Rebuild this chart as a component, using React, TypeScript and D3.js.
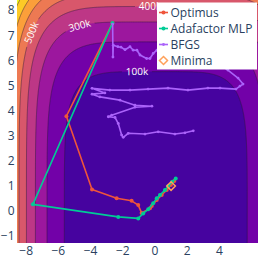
import * as d3 from "d3";
import { useEffect, useRef } from "react";

// contour levels of the loss surface
const levels = [100000, 200000, 300000, 400000, 500000, 600000, 700000, 800000, 900000];
const labelLevels = [500000, 300000, 400000, 100000];
const labelX = [-7.83, -4.66, -0.31, -1.12];
const labelY = [7.21, 7.29, 7.89, 5.66];

// bowl fitted to the shading of the picture
const bowl = { a: 96, x0: 0.05, b: 65.2, y0: -0.7, p: 1.3 };

const xTicks = [-8, -6, -4, -2, 0, 2, 4];
const yTicks = [-1, 0, 1, 2, 3, 4, 5, 6, 7, 8];

const optimusX = [-2.64, -5.5, -3.91, -2.38, -1.45, -1.04, -0.83, -0.31, -0.2, 0.11, 0.42, 0.73, 0.99, 1.2];
const optimusY = [7.49, 3.78, 0.86, 0.51, 0.41, 0.24, -0.07, 0.11, 0.2, 0.44, 0.64, 0.84, 1.04, 1.2];

const adafactorX = [-2.64, -7.58, -2.28, -1.04, -0.73, -0.42, -0.11, 0.11, 0.31, 0.62, 0.83, 1.07, 1.29];
const adafactorY = [7.49, 0.27, -0.23, -0.29, -0.09, 0.07, 0.31, 0.51, 0.64, 0.84, 1.0, 1.17, 1.3];

const bfgsX = [-2.63, -2.61, -2.59, -2.3, -2.11, -1.86, -1.55, -1.35, -1.12, -0.93, -0.52, -0.31, -0.11, 0.12,
  2.17, 3.73, 4.53, 5.16, 5.47, 5.28, 5.03, 4.04, 3.29, 2.05, 0.81, -0.43, -1.55, -2.8, -3.91,
  -3.11, -3.91, -3.42, -2.17, -1.24, -0.19, -1.24, -2.69, -2.9, -2.48, -2.28, -2.07, -1.97, -1.66,
  -0.62, 0.2, 1.24, 1.86, 2.38];
const bfgsY = [7.45, 6.14, 6.61, 6.55, 6.53, 6.43, 6.55, 6.41, 6.41, 6.22, 6.08, 6.08, 6.28, 6.41,
  6.61, 5.94, 5.62, 5.3, 5.06, 4.98, 4.86, 4.9, 4.9, 4.82, 4.9, 4.86, 4.82, 4.82, 4.89,
  4.71, 4.66, 4.55, 4.42, 4.22, 4.18, 4.14, 3.82, 3.76, 3.73, 3.49, 3.03, 2.94, 3.1,
  3.07, 3.16, 3.07, 3.12, 3.2];

const minimaX = [1];
const minimaY = [1];

const seriesNames = ["Optimus", "Adafactor MLP", "BFGS", "Minima"];
const seriesColors = ["#EF553B", "#00CC96", "#AB63FA", "#FFA15A"];

function loss(x: number, y: number) {
  const u = (bowl.a * Math.pow(x - bowl.x0, 4)) / 1000;
  const v = (bowl.b * Math.pow(y - bowl.y0, 4)) / 1000;
  return Math.pow(Math.pow(u, bowl.p) + Math.pow(v, bowl.p), 1 / bowl.p) * 1000;
}

export default function App() {
  const ref = useRef<SVGSVGElement>(null);

  useEffect(() => {
    const svg = d3.select(ref.current);
    svg.selectAll("*").remove();

    const x = d3.scaleLinear().domain([-8.57, 6.4]).range([17, 258]);
    const y = d3.scaleLinear().domain([-1.27, 8.41]).range([243, 0]);
    const font = "'Open Sans', sans-serif";
    const band = (i: number) => d3.interpolatePlasma(Math.min(1, (i + 1) / 9));

    const defs = svg.append("defs");
    defs
      .append("clipPath")
      .attr("id", "plotclip")
      .append("rect")
      .attr("x", 17)
      .attr("y", 0)
      .attr("width", 241)
      .attr("height", 243);

    // sample the surface on a grid wider than the plot
    const step = 0.04;
    const gx0 = -9.2,
      gy0 = -2.2;
    const nx = Math.ceil((7.2 - gx0) / step) + 1;
    const ny = Math.ceil((9.4 - gy0) / step) + 1;
    const values = new Array(nx * ny);
    for (let j = 0; j < ny; j++) {
      for (let i = 0; i < nx; i++) {
        values[j * nx + i] = loss(gx0 + i * step, gy0 + j * step);
      }
    }
    const contours = d3.contours().size([nx, ny]).thresholds(levels)(values);
    const proj = d3.geoTransform({
      point(px: number, py: number) {
        this.stream.point(x(gx0 + (px - 0.5) * step), y(gy0 + (py - 0.5) * step));
      },
    });
    const geo = d3.geoPath(proj);

    // labels sit on their contour, turned along it
    const labels = labelLevels.map((lv, k) => {
      let px = labelX[k],
        py = labelY[k];
      for (let it = 0; it < 8; it++) {
        const h = 1e-3;
        const gx = (loss(px + h, py) - loss(px - h, py)) / (2 * h);
        const gy = (loss(px, py + h) - loss(px, py - h)) / (2 * h);
        const d = (loss(px, py) - lv) / (gx * gx + gy * gy);
        px -= d * gx;
        py -= d * gy;
      }
      const h = 1e-3;
      const gx = (loss(px + h, py) - loss(px - h, py)) / (2 * h);
      const gy = (loss(px, py + h) - loss(px, py - h)) / (2 * h);
      let ang = (Math.atan2(-gx * 25.1, -gy * 16.1) * 180) / Math.PI;
      if (ang > 90) ang -= 180;
      if (ang < -90) ang += 180;
      return { text: d3.format("~s")(lv), cx: x(px), cy: y(py), ang };
    });

    const mask = defs.append("mask").attr("id", "lblmask").attr("maskUnits", "userSpaceOnUse");
    mask.append("rect").attr("x", 0).attr("y", 0).attr("width", 258).attr("height", 258).attr("fill", "white");
    labels.forEach((l) => {
      mask
        .append("rect")
        .attr("x", -15)
        .attr("y", -6)
        .attr("width", 30)
        .attr("height", 12)
        .attr("fill", "black")
        .attr("transform", `translate(${l.cx},${l.cy}) rotate(${l.ang})`);
    });

    const plot = svg.append("g").attr("clip-path", "url(#plotclip)");
    plot.append("rect").attr("x", 17).attr("y", 0).attr("width", 241).attr("height", 243).attr("fill", band(0));

    plot
      .selectAll("path.band")
      .data(contours)
      .enter()
      .append("path")
      .attr("class", "band")
      .attr("d", (d) => geo(d as any))
      .attr("fill", (d, i) => band(i + 1));

    plot
      .append("g")
      .attr("mask", "url(#lblmask)")
      .selectAll("path")
      .data(contours)
      .enter()
      .append("path")
      .attr("d", (d) => geo(d as any))
      .attr("fill", "none")
      .attr("stroke", "rgba(45,25,60,0.8)")
      .attr("stroke-width", 0.6);

    labels.forEach((l) => {
      plot
        .append("text")
        .attr("transform", `translate(${l.cx},${l.cy}) rotate(${l.ang})`)
        .attr("text-anchor", "middle")
        .attr("dy", "0.35em")
        .attr("font-family", font)
        .attr("font-size", 10)
        .attr("fill", "white")
        .text(l.text);
    });

    // optimizer paths
    const trails = [
      { xs: optimusX, ys: optimusY, color: seriesColors[0], r: 2 },
      { xs: adafactorX, ys: adafactorY, color: seriesColors[1], r: 2 },
      { xs: bfgsX, ys: bfgsY, color: seriesColors[2], r: 1.4 },
    ];
    trails.forEach((t) => {
      const idx = d3.range(t.xs.length);
      const line = d3
        .line<number>()
        .x((i) => x(t.xs[i]))
        .y((i) => y(t.ys[i]));
      plot
        .append("path")
        .attr("d", line(idx))
        .attr("fill", "none")
        .attr("stroke", t.color)
        .attr("stroke-width", 1.6)
        .attr("stroke-linejoin", "round");
      plot
        .selectAll(null)
        .data(idx)
        .enter()
        .append("circle")
        .attr("cx", (i) => x(t.xs[i]))
        .attr("cy", (i) => y(t.ys[i]))
        .attr("r", t.r)
        .attr("fill", t.color);
    });

    const diamond = (cx: number, cy: number, s: number) =>
      `M${cx},${cy - s}L${cx + s},${cy}L${cx},${cy + s}L${cx - s},${cy}Z`;
    minimaX.forEach((mx, i) => {
      plot
        .append("path")
        .attr("d", diamond(x(mx), y(minimaY[i]), 4.3))
        .attr("fill", "none")
        .attr("stroke", seriesColors[3])
        .attr("stroke-width", 1.5);
    });

    // axes labels
    svg
      .selectAll("text.xt")
      .data(xTicks)
      .enter()
      .append("text")
      .attr("class", "xt")
      .attr("x", (d) => x(d))
      .attr("y", 255)
      .attr("text-anchor", "middle")
      .attr("font-family", font)
      .attr("font-size", 12)
      .attr("fill", "#2a3f5f")
      .text((d) => d3.format("d")(d));

    svg
      .selectAll("text.yt")
      .data(yTicks)
      .enter()
      .append("text")
      .attr("class", "yt")
      .attr("x", 14.5)
      .attr("y", (d) => y(d))
      .attr("dy", "0.35em")
      .attr("text-anchor", "end")
      .attr("font-family", font)
      .attr("font-size", 12)
      .attr("fill", "#2a3f5f")
      .text((d) => d3.format("d")(d));

    // legend
    const lg = svg.append("g");
    lg.append("rect").attr("x", 157).attr("y", 2.5).attr("width", 100).attr("height", 67).attr("fill", "white");
    seriesNames.forEach((name, i) => {
      const cy = 12.5 + i * 16;
      const c = seriesColors[i];
      if (i < 3) {
        lg.append("line").attr("x1", 159).attr("x2", 168).attr("y1", cy).attr("y2", cy).attr("stroke", c).attr("stroke-width", 1.6);
        lg.append("circle").attr("cx", 163.5).attr("cy", cy).attr("r", i === 2 ? 1.4 : 2).attr("fill", c);
      } else {
        lg.append("path").attr("d", diamond(163.5, cy, 4)).attr("fill", "none").attr("stroke", c).attr("stroke-width", 1.5);
      }
      lg.append("text")
        .attr("x", 170.5)
        .attr("y", cy)
        .attr("dy", "0.35em")
        .attr("font-family", font)
        .attr("font-size", 12)
        .attr("fill", "#2a3f5f")
        .text(name);
    });
  }, []);

  return <svg ref={ref} width={258} height={258} style={{ position: "absolute", left: 0, top: 0 }} />;
}
